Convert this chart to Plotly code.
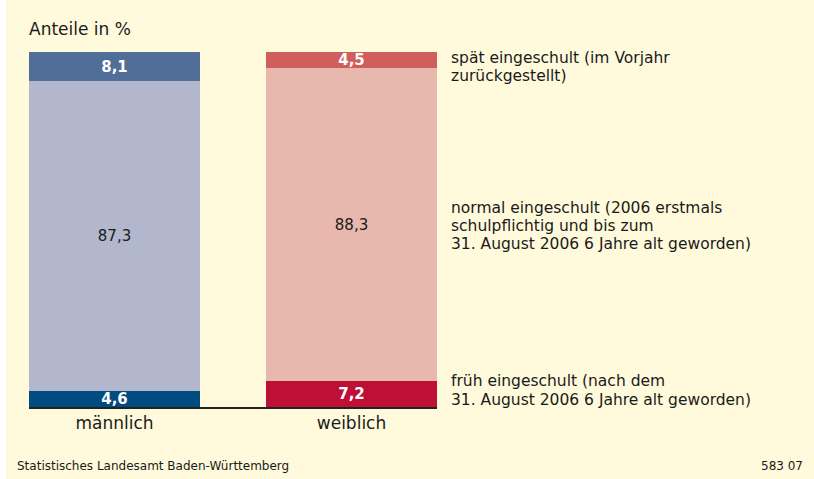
import plotly.graph_objects as go

categories = ["männlich", "weiblich"]
frueh = [4.6, 7.2]
normal = [87.3, 88.3]
spaet = [8.1, 4.5]

frueh_colors = ["#004B80", "#BE0F36"]
normal_colors = ["#B2B7CE", "#E8B7AE"]
spaet_colors = ["#516E99", "#D05E5C"]

legend_lines = {
    "spaet": ["spät eingeschult (im Vorjahr", "zurückgestellt)"],
    "normal": ["normal eingeschult (2006 erstmals", "schulpflichtig und bis zum",
               "31. August 2006 6 Jahre alt geworden)"],
    "frueh": ["früh eingeschult (nach dem", "31. August 2006 6 Jahre alt geworden)"],
}

W, H = 814, 479
ML, MR, MT, MB = 29, 377, 52, 72
PW = W - ML - MR
PH = H - MT - MB
FONT = "DejaVu Sans"
BG = "#FFFADC"

x_pos = [0, 1]
bar_w = 171 / 237
half = bar_w / 2

def px_to_px(px):
    return (px - ML) / PW

def py_to_py(py):
    return (H - MB - py) / PH

fig = go.Figure()
for vals, cols, bold in [(frueh, frueh_colors, True), (normal, normal_colors, False),
                         (spaet, spaet_colors, True)]:
    fig.add_trace(go.Bar(
        x=x_pos, y=vals, width=bar_w,
        marker=dict(color=cols, line=dict(width=0)),
        texttemplate="%{y:.1f}", textposition="inside", insidetextanchor="middle",
        textangle=0, constraintext="none",
        textfont=dict(family=FONT, size=15, color="white" if bold else "#1a1a1a",
                      weight=700 if bold else 400),
        hoverinfo="skip", showlegend=False,
    ))

annotations = []
LEG_SIZE = 15.5
SPACING = 18.5
group_centers = {"spaet": 67, "normal": 226, "frueh": 390.5}
for key, lines in legend_lines.items():
    n = len(lines)
    for i, txt in enumerate(lines):
        cy = group_centers[key] + (i - (n - 1) / 2) * SPACING
        annotations.append(dict(
            x=px_to_px(450), y=py_to_py(cy), xref="paper", yref="paper",
            xanchor="left", yanchor="middle", text=txt, showarrow=False,
            borderpad=0, font=dict(family=FONT, size=LEG_SIZE, color="#1a1a1a"),
        ))
annotations.append(dict(
    x=px_to_px(28), y=py_to_py(29), xref="paper", yref="paper",
    xanchor="left", yanchor="middle", text="Anteile in %", showarrow=False,
    borderpad=0, font=dict(family=FONT, size=17, color="#1a1a1a"),
))
annotations.append(dict(
    x=px_to_px(16), y=py_to_py(466), xref="paper", yref="paper",
    xanchor="left", yanchor="middle", text="Statistisches Landesamt Baden-Württemberg",
    showarrow=False, borderpad=0, font=dict(family=FONT, size=12, color="#1a1a1a"),
))
annotations.append(dict(
    x=px_to_px(804), y=py_to_py(466), xref="paper", yref="paper",
    xanchor="right", yanchor="middle", text="583 07",
    showarrow=False, borderpad=0, font=dict(family=FONT, size=12, color="#1a1a1a"),
))

fig.update_layout(
    width=W, height=H, autosize=False,
    margin=dict(l=ML, r=MR, t=MT, b=MB, pad=0),
    barmode="stack", bargap=0,
    paper_bgcolor=BG, plot_bgcolor=BG,
    separators=",.",
    showlegend=False,
    xaxis=dict(
        range=[-half, 1 + half], tickmode="array", tickvals=x_pos, ticktext=categories,
        showgrid=False, zeroline=False, showline=True, linecolor="#222222", linewidth=1.5,
        ticks="", tickfont=dict(family=FONT, size=17, color="#1a1a1a"), fixedrange=True,
    ),
    yaxis=dict(range=[0, 100], visible=False, fixedrange=True),
    annotations=annotations,
    shapes=[dict(
        type="rect", xref="paper", yref="paper",
        x0=px_to_px(0), x1=px_to_px(6), y0=py_to_py(H), y1=py_to_py(0),
        fillcolor="white", line=dict(width=0), layer="below",
    )],
)

fig.write_html(
    "out.html",
    config={"displayModeBar": False},
    post_script="document.body.style.margin='0';document.body.style.padding='0';",
)
